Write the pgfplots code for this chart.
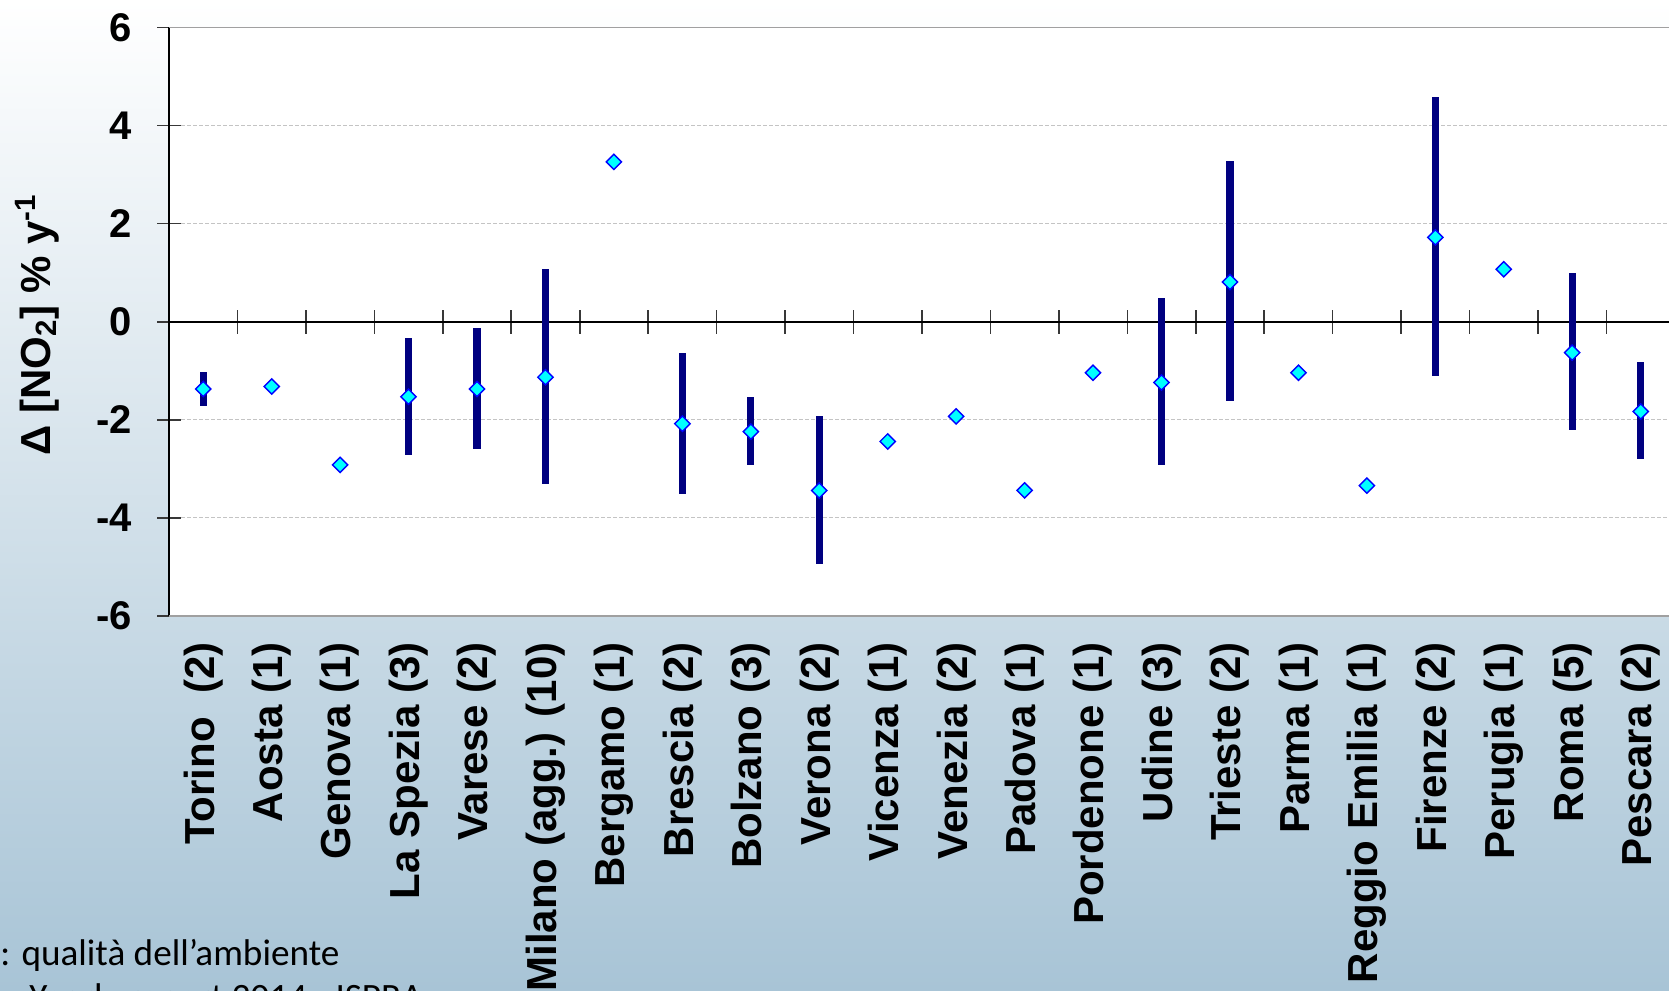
\documentclass[border=0pt]{standalone}
\usepackage{fontspec}
\setmainfont{Liberation Sans}
\newfontfamily\calibri{Carlito}
\usepackage{pgfplots}
\pgfplotsset{compat=1.18}
\usepackage{pgfplotstable}
\definecolor{barnavy}{HTML}{000080}
\definecolor{mkfill}{HTML}{00FFFF}
\definecolor{mkdraw}{HTML}{0000FF}
\definecolor{bgbot}{HTML}{A8C4D6}
\definecolor{bgmid}{HTML}{DDE7EE}
\definecolor{gridgray}{HTML}{C4C4C4}
\definecolor{framegray}{HTML}{A0A0A0}
\definecolor{tickgray}{HTML}{383838}

\pgfplotstableread{
x y ep em
0 -1.37 0.34 0.35
1 -1.32 0 0
2 -2.92 0 0
3 -1.53 1.20 1.18
4 -1.37 1.25 1.23
5 -1.13 2.20 2.17
6 3.26 0 0
7 -2.08 1.45 1.44
8 -2.24 0.70 0.69
9 -3.44 1.52 1.49
10 -2.44 0 0
11 -1.93 0 0
12 -3.44 0 0
13 -1.04 0 0
14 -1.24 1.72 1.69
15 0.81 2.46 2.43
16 -1.04 0 0
17 -3.34 0 0
18 1.72 2.86 2.82
19 1.07 0 0
20 -0.63 1.62 1.58
21 -1.83 1.01 0.97
}\datatable

\begin{document}
\begin{tikzpicture}
\useasboundingbox (0pt,0pt) rectangle (834.5pt,495pt);
\shade[top color=white, middle color=bgmid, bottom color=bgbot] (0pt,0pt) rectangle (834.5pt,495pt);

\begin{axis}[
  at={(84.5pt,187pt)}, anchor=south west,
  scale only axis, width=750pt, height=294.25pt,
  xmin=-0.5, xmax=21.414, ymin=-6, ymax=6,
  axis background/.style={fill=white},
  axis x line*=middle, axis y line*=left,
  x axis line style={black, line width=0.8pt, -},
  y axis line style={black, line width=0.9pt, -},
  xtick={0.5,1.5,...,20.5}, xticklabels={},
  ytick={-6,-4,...,6}, yticklabels={-6,-4,-2,0,2,4,6},
  tick align=center, major tick length=12pt,
  tick style={tickgray, line width=0.8pt},
  ymajorgrids, major grid style={gridgray, dash pattern=on 2pt off 1pt, line width=0.5pt},
  extra y ticks={-6,6}, extra y tick labels={},
  extra y tick style={grid=major, major grid style={framegray, solid, line width=0.8pt}, major tick length=0pt},
  yticklabel style={font=\bfseries\fontsize{20}{24}\selectfont, inner sep=0pt, xshift=-12.5pt},
  ylabel={Δ [NO\textsubscript{2}] \% y\textsuperscript{-1}},
  ylabel style={font=\bfseries\fontsize{21}{25}\selectfont, at={(axis description cs:-0.088,0.4945)}, anchor=center},
  clip=true,
]
\addplot[only marks, mark=none, error bars/.cd, y dir=both, y explicit, error mark=none,
  error bar style={line width=3.6pt, barnavy}]
  table[x=x, y=y, y error plus=ep, y error minus=em]{\datatable};
\addplot[only marks, mark=square*, mark size=2.7pt,
  mark options={rotate=45, fill=mkfill, draw=mkdraw, line width=0.7pt}]
  table[x=x, y=y]{\datatable};
\end{axis}

\begin{axis}[
  at={(84.5pt,187pt)}, anchor=south west,
  scale only axis, width=750pt, height=294.25pt,
  xmin=-0.5, xmax=21.414, ymin=-6, ymax=6,
  axis line style={draw=none}, ytick=\empty,
  xtick={0,...,21}, major tick length=0pt,
  xticklabels={Torino~~(2), Aosta (1), Genova (1), La Spezia (3), Varese (2), Milano (agg.) (10), Bergamo (1), Brescia (2), Bolzano (3), Verona (2), Vicenza (1), Venezia (2), Padova (1), Pordenone (1), Udine (3), Trieste (2), Parma (1), Reggio Emilia (1), Firenze (2), Perugia (1), Roma (5), Pescara (2)},
  xticklabel style={yshift=-13pt, rotate=90, anchor=east, inner sep=0pt, font=\bfseries\fontsize{21}{25}\selectfont},
]
\addplot[draw=none] coordinates {(0,0)};
\end{axis}

\node[anchor=base west, inner sep=0pt, font=\calibri\fontsize{18.6}{22}\selectfont] at (0pt,12.5pt) {: qualità dell’ambiente};
\node[anchor=base west, inner sep=0pt, font=\calibri\fontsize{18.6}{22}\selectfont] at (1pt,-9.5pt) {– Yearly report 2014 - ISPRA};
\end{tikzpicture}
\end{document}
